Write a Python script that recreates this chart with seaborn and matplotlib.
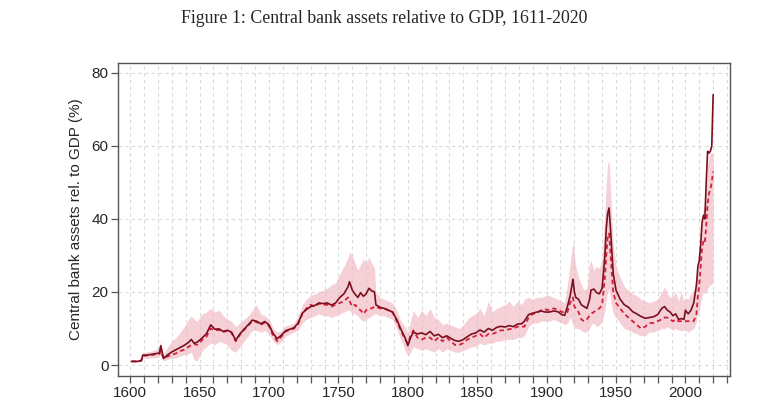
import matplotlib
matplotlib.use("Agg")
import matplotlib.pyplot as plt
from matplotlib.ticker import MultipleLocator
import seaborn as sns
import pandas as pd

years = [1601, 1605, 1608, 1609, 1612, 1615, 1618, 1621, 1622, 1624, 1627, 1630, 1633, 1636, 1639,
         1642, 1644, 1646, 1648, 1650, 1652, 1655, 1658, 1661, 1664, 1667, 1670, 1673, 1676, 1679,
         1682, 1685, 1688, 1691, 1694, 1697, 1700, 1703, 1706, 1709, 1712, 1715, 1718, 1721, 1724,
         1727, 1730, 1733, 1736, 1739, 1742, 1745, 1748, 1751, 1754, 1757, 1758, 1760, 1762, 1764,
         1766, 1768, 1770, 1772, 1774, 1776, 1777, 1780, 1783, 1786, 1789, 1792, 1795, 1798, 1800,
         1802, 1804, 1807, 1810, 1813, 1816, 1819, 1822, 1825, 1828, 1831, 1834, 1837, 1840, 1843,
         1846, 1849, 1852, 1855, 1858, 1861, 1864, 1867, 1870, 1873, 1876, 1879, 1882, 1884, 1887,
         1890, 1893, 1896, 1899, 1902, 1905, 1908, 1911, 1913, 1915, 1917, 1919, 1920, 1921, 1923,
         1925, 1927, 1929, 1931, 1932, 1934, 1936, 1938, 1940, 1942, 1943, 1944, 1945, 1946, 1947,
         1948, 1950, 1953, 1956, 1959, 1962, 1965, 1968, 1971, 1974, 1977, 1980, 1983, 1985, 1987,
         1989, 1991, 1993, 1995, 1997, 1999, 2000, 2002, 2004, 2006, 2008, 2009, 2010, 2011, 2012,
         2013, 2014, 2015, 2016, 2017, 2018, 2019, 2020]

solid = [1.0, 1.0, 1.2, 2.7, 2.7, 2.9, 3.1, 3.3, 5.3, 1.8, 2.8, 3.6, 4.2, 4.8, 5.4,
         6.2, 7.0, 6.0, 6.2, 6.8, 7.5, 8.6, 11.0, 9.8, 9.9, 9.2, 9.5, 9.0, 6.8, 8.5,
         9.8, 11.0, 12.3, 12.0, 11.3, 11.9, 11.0, 8.6, 7.2, 8.2, 9.4, 9.8, 10.2, 11.5, 14.2,
         15.2, 16.0, 16.3, 17.0, 16.8, 17.0, 16.4, 17.0, 18.5, 19.5, 21.5, 22.8, 20.5, 19.4, 18.5,
         19.8, 18.8, 19.5, 21.0, 20.3, 20.0, 16.5, 15.8, 15.5, 15.0, 14.5, 12.5, 9.8, 7.5, 5.3,
         7.5, 9.0, 8.5, 8.8, 8.3, 9.2, 8.0, 8.4, 7.5, 8.0, 7.3, 6.7, 6.5, 7.0, 7.8,
         8.5, 8.8, 9.6, 9.0, 10.0, 9.5, 10.3, 10.6, 10.4, 10.8, 10.5, 11.2, 11.3, 12.0, 13.8,
         14.2, 14.5, 14.8, 14.5, 14.5, 14.8, 14.6, 13.8, 13.6, 16.0, 19.0, 23.5, 20.0, 18.5, 18.0,
         16.5, 16.0, 15.5, 18.0, 20.5, 20.8, 19.8, 19.5, 21.0, 30.0, 37.5, 41.5, 43.0, 37.5, 31.0,
         25.0, 20.5, 18.0, 16.5, 15.8, 14.6, 14.0, 13.3, 12.8, 13.0, 13.2, 13.8, 15.5, 16.0, 15.0,
         14.5, 13.5, 14.0, 12.5, 12.7, 12.5, 15.0, 14.0, 15.0, 17.0, 22.0, 27.0, 28.5, 33.0, 39.0,
         41.0, 40.0, 50.0, 58.5, 58.0, 58.5, 60.0, 74.0]

dashed = [1.0, 1.0, 1.2, 2.5, 2.6, 2.7, 2.9, 3.0, 4.0, 1.8, 2.4, 2.8, 3.2, 3.8, 4.2,
          5.0, 5.5, 5.8, 5.5, 6.0, 7.0, 7.8, 10.0, 9.5, 9.6, 9.0, 9.4, 8.8, 6.5, 8.3,
          9.6, 10.8, 12.0, 11.8, 11.0, 11.6, 10.7, 8.0, 6.5, 7.8, 9.2, 9.6, 10.0, 11.2, 14.0,
          15.5, 16.5, 16.0, 16.8, 16.5, 16.5, 16.0, 16.5, 17.0, 17.5, 18.5, 17.5, 16.0, 16.5, 15.5,
          15.0, 14.0, 15.0, 15.5, 15.5, 16.0, 16.0, 15.5, 15.5, 15.0, 14.5, 12.0, 9.5, 7.0, 6.0,
          8.0, 9.5, 7.5, 7.0, 7.5, 7.5, 6.5, 7.5, 6.5, 7.5, 6.5, 5.5, 5.5, 6.0, 7.0,
          7.5, 8.0, 8.5, 7.5, 8.5, 8.5, 9.0, 9.5, 9.5, 9.8, 10.0, 10.5, 10.5, 10.5, 13.0,
          14.0, 14.2, 15.0, 15.2, 15.0, 15.5, 15.2, 14.5, 14.5, 14.5, 17.0, 18.5, 16.0, 15.5, 14.5,
          12.5, 12.0, 12.5, 13.5, 14.0, 14.5, 15.0, 15.5, 16.5, 24.0, 30.0, 35.0, 36.0, 31.0, 25.0,
          20.0, 17.0, 15.5, 14.0, 13.0, 12.0, 11.0, 10.0, 10.5, 11.5, 11.5, 12.0, 12.5, 13.0, 13.0,
          12.5, 12.0, 12.5, 12.0, 12.0, 12.0, 12.0, 12.0, 12.0, 12.0, 14.0, 19.0, 22.0, 27.0, 32.0,
          34.0, 33.5, 38.0, 44.0, 47.0, 48.0, 50.0, 53.0]

band_lo = [0.8, 0.8, 1.0, 2.0, 1.8, 1.9, 2.0, 2.2, 2.8, 1.0, 1.6, 1.8, 2.0, 2.5, 2.8,
           3.0, 3.5, 1.5, 1.0, 2.5, 4.0, 5.0, 6.0, 5.5, 6.5, 6.0, 5.5, 4.0, 3.5, 5.0,
           6.5, 8.0, 9.5, 9.5, 9.0, 9.5, 8.5, 6.5, 5.5, 6.5, 8.0, 8.5, 9.0, 9.5, 11.5,
           12.5, 13.0, 13.5, 14.0, 13.5, 13.5, 13.0, 13.5, 14.0, 14.5, 15.0, 15.0, 14.0, 14.0, 13.5,
           12.5, 12.0, 12.5, 13.0, 13.5, 14.0, 14.0, 13.5, 13.5, 13.0, 12.5, 10.0, 7.0, 4.0, 2.5,
           3.5, 5.0, 4.5, 4.0, 4.5, 4.0, 3.5, 4.5, 3.5, 4.5, 4.0, 3.5, 3.5, 4.0, 4.5,
           5.0, 5.0, 6.0, 5.5, 6.0, 6.0, 6.5, 6.5, 7.0, 7.0, 7.0, 7.5, 7.5, 8.0, 10.5,
           11.5, 11.5, 12.0, 12.0, 12.0, 12.5, 12.0, 11.5, 11.0, 11.5, 13.0, 11.0, 10.5, 10.0, 10.0,
           9.5, 9.0, 9.0, 10.0, 11.0, 11.5, 10.5, 11.0, 12.0, 15.0, 18.0, 20.0, 21.0, 18.0, 16.0,
           14.0, 13.0, 11.5, 10.0, 9.5, 9.0, 8.5, 8.0, 8.0, 9.0, 9.0, 9.5, 10.0, 10.0, 10.5,
           10.0, 9.5, 10.0, 9.5, 9.5, 9.5, 9.5, 9.0, 9.5, 10.0, 12.0, 14.0, 15.0, 17.0, 19.0,
           20.0, 19.5, 20.0, 21.0, 21.5, 22.0, 22.0, 23.0]

band_hi = [1.2, 1.3, 1.5, 3.5, 3.6, 3.8, 4.2, 4.5, 6.5, 3.0, 5.0, 6.5, 7.5, 9.0, 10.5,
           12.5, 13.5, 12.5, 12.0, 13.0, 14.0, 14.5, 15.5, 14.5, 15.0, 13.5, 12.5, 12.0, 10.5, 11.5,
           12.5, 13.5, 15.0, 16.5, 14.0, 13.5, 12.5, 10.0, 9.0, 9.5, 10.8, 11.0, 11.5, 13.5, 16.5,
           18.0, 19.0, 19.5, 20.0, 20.5, 21.0, 22.0, 22.5, 25.0, 27.0, 29.5, 31.0, 30.0, 28.0, 26.0,
           27.5, 29.0, 28.0, 29.5, 28.0, 26.5, 20.0, 18.5, 18.0, 17.5, 17.0, 15.0, 12.0, 10.5, 9.0,
           12.0, 15.0, 13.0, 15.0, 13.5, 15.5, 13.0, 12.5, 11.0, 11.5, 11.0, 10.5, 10.0, 11.0, 12.5,
           13.5, 14.0, 15.5, 13.5, 17.5, 14.5, 15.5, 16.0, 16.5, 17.5, 16.0, 17.5, 16.5, 18.0, 18.5,
           18.0, 18.5, 18.5, 19.0, 19.0, 18.5, 18.0, 17.5, 17.0, 22.0, 28.0, 34.0, 30.0, 27.0, 24.0,
           22.0, 20.5, 21.0, 28.0, 28.5, 26.0, 27.0, 26.5, 29.0, 42.0, 50.0, 55.0, 56.0, 49.0, 40.0,
           33.0, 27.0, 24.0, 21.5, 20.5, 19.5, 19.0, 18.0, 17.5, 17.0, 17.5, 18.0, 20.0, 21.5, 19.5,
           18.5, 19.0, 20.0, 17.5, 20.0, 17.5, 18.5, 18.0, 19.5, 20.0, 25.0, 30.0, 32.0, 36.0, 40.0,
           43.0, 43.0, 48.0, 55.0, 57.0, 58.0, 58.0, 58.0]

df = pd.DataFrame({"year": years, "solid": solid, "dashed": dashed,
                   "lo": band_lo, "hi": band_hi})

sns.set_style("white")
plt.rcParams['font.family'] = ['Liberation Sans', 'DejaVu Sans']

fig = plt.figure(figsize=(7.68, 4.03), dpi=100)
ax = fig.add_axes([0.154, 0.067, 0.797, 0.777])

ax.fill_between(df["year"], df["lo"], df["hi"], color="#f0b4bf", alpha=0.62,
                linewidth=0, zorder=2)
sns.lineplot(data=df, x="year", y="dashed", ax=ax, color="#d3213a",
             linewidth=1.3, linestyle=(0, (2.5, 1.8)), zorder=3)
sns.lineplot(data=df, x="year", y="solid", ax=ax, color="#7a0f1f",
             linewidth=1.2, zorder=4)

ax.set_xlim(1591.4, 2032.4)
ax.set_ylim(-3.0, 82.7)
ax.xaxis.set_major_locator(MultipleLocator(50))
ax.xaxis.set_minor_locator(MultipleLocator(10))
ax.yaxis.set_major_locator(MultipleLocator(20))

ax.grid(True, which="both", axis="x", color="#d9d9d9", linestyle=(0, (3, 3)), linewidth=0.8)
ax.grid(True, which="major", axis="y", color="#d9d9d9", linestyle=(0, (3, 3)), linewidth=0.8)
ax.set_axisbelow(True)

for s in ax.spines.values():
    s.set_color("#555555")
    s.set_linewidth(1.0)

ax.tick_params(axis="both", which="major", direction="out", length=5, width=0.9,
               color="#555555", labelsize=11, pad=2, bottom=True, left=True)
ax.tick_params(axis="x", which="minor", direction="out", length=5, width=0.9,
               color="#555555", bottom=True)

ax.set_xlabel("")
ax.set_ylabel("Central bank assets rel. to GDP (%)", fontsize=11, labelpad=6)

fig.text(0.5, 0.955, "Figure 1: Central bank assets relative to GDP, 1611-2020",
         ha="center", va="center", fontsize=12.8, family=["Liberation Serif", "DejaVu Serif"])

fig.savefig("out.png", dpi=100)
